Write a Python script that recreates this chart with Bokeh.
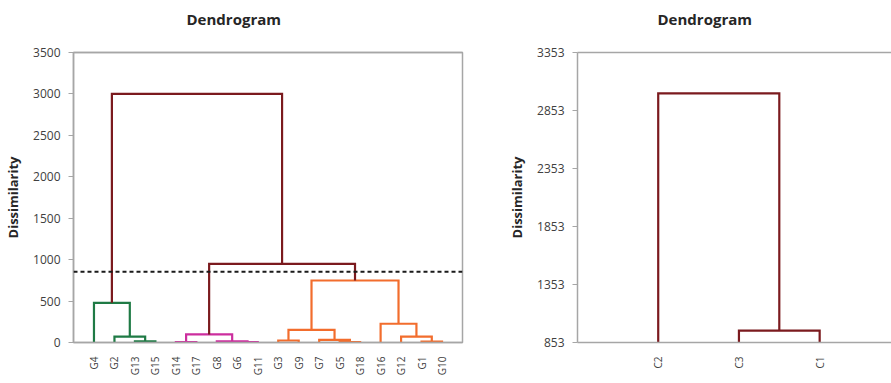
from bokeh.plotting import figure
from bokeh.layouts import row
from bokeh.models import FixedTicker, Span, LinearAxis, Range1d
from bokeh.embed import file_html
from bokeh.resources import INLINE

# ---------------- data ----------------
title_text = "Dendrogram"
y_label = "Dissimilarity"

left_leaves = ["G4", "G2", "G13", "G15", "G14", "G17", "G8", "G6", "G11",
               "G3", "G9", "G7", "G5", "G18", "G16", "G12", "G1", "G10"]
# merges, in order; new nodes are named m1, m2, ...
left_merge_a = ["G13", "G2", "G4", "G14", "G6", "G8", "m4", "G3", "G5", "G7",
                "m8", "G1", "G12", "G16", "m11", "m7", "m3"]
left_merge_b = ["G15", "m1", "m2", "G17", "G11", "m5", "m6", "G9", "G18", "m9",
                "m10", "G10", "m12", "m13", "m14", "m15", "m16"]
left_merge_height = [15, 72, 479, 6, 4, 14, 97, 24, 6, 32,
                     153, 12, 72, 226, 748, 950, 3000]
left_merge_group = ["A", "A", "A", "B", "B", "B", "B", "C", "C", "C",
                    "C", "C", "C", "C", "C", "T", "T"]
left_y_ticks = [0, 500, 1000, 1500, 2000, 2500, 3000, 3500]
truncation_level = 853

right_leaves = ["C2", "C3", "C1"]
right_merge_a = ["C3", "C2"]
right_merge_b = ["C1", "m1"]
right_merge_height = [956, 3000]
right_merge_group = ["T", "T"]
right_y_ticks = [853, 1353, 1853, 2353, 2853, 3353]

group_colors = {"A": "#1f7a45", "B": "#cc2e9e", "C": "#f26d2d", "T": "#7b1a1e"}

FONT = "Open Sans"
AXIS_GRAY = "#a6a6a6"


def dendro_segments(leaves, ma, mb, mh, mg, base):
    pos = {name: i + 1 for i, name in enumerate(leaves)}
    top = {name: base for name in leaves}
    xs, ys, cs = [], [], []
    for k, (a, b, h, g) in enumerate(zip(ma, mb, mh, mg)):
        xa, xb = pos[a], pos[b]
        xs.append([xa, xa, xb, xb])
        ys.append([top[a], h, h, top[b]])
        cs.append(group_colors[g])
        name = "m%d" % (k + 1)
        pos[name] = (xa + xb) / 2
        top[name] = h
    return xs, ys, cs


def style(p, ticks, leaves, title_offset):
    p.title.text = title_text
    p.title.align = "left"
    p.title.offset = title_offset
    p.title.text_font = FONT
    p.title.text_font_size = "15px"
    p.title.text_font_style = "bold"
    p.title.text_color = "#262626"
    p.title.standoff = 10
    p.xgrid.visible = False
    p.ygrid.visible = False
    p.background_fill_color = "white"
    p.border_fill_color = "white"

    xa = p.below[0]
    xa.ticker = FixedTicker(ticks=list(range(1, len(leaves) + 1)))
    xa.major_label_overrides = {i + 1: n for i, n in enumerate(leaves)}
    xa.major_label_orientation = 1.5707963267948966
    xa.major_tick_line_color = None
    xa.minor_tick_line_color = None
    xa.major_tick_out = 0
    xa.major_label_standoff = 14
    xa.major_label_text_font = FONT
    xa.major_label_text_font_size = "10px"
    xa.major_label_text_color = "#404040"
    xa.axis_line_color = AXIS_GRAY
    xa.axis_line_width = 1.5

    ya = p.left[0]
    ya.ticker = FixedTicker(ticks=ticks)
    ya.minor_tick_line_color = None
    ya.major_tick_in = 0
    ya.major_tick_out = 5
    ya.major_tick_line_color = AXIS_GRAY
    ya.major_label_standoff = 8
    ya.major_label_text_font = FONT
    ya.major_label_text_font_size = "12px"
    ya.major_label_text_color = "#404040"
    ya.axis_line_color = AXIS_GRAY
    ya.axis_line_width = 1.5
    ya.axis_label = y_label
    ya.axis_label_text_font = FONT
    ya.axis_label_text_font_size = "13px"
    ya.axis_label_text_font_style = "bold"
    ya.axis_label_text_color = "#262626"
    ya.axis_label_standoff = 8

    # top border line with an invisible spacer tick, keeping the title high above the frame
    top_axis = LinearAxis(ticker=FixedTicker(ticks=[0]), axis_line_color=AXIS_GRAY,
                          axis_line_width=1.5, major_tick_line_color=None,
                          minor_tick_line_color=None, major_tick_out=19,
                          major_tick_in=0, major_label_standoff=0,
                          major_label_overrides={0: ""},
                          major_label_text_font_size="1px")
    p.add_layout(top_axis, "above")


# ---------------- left chart ----------------
p1 = figure(width=498, height=383, output_backend="svg", toolbar_location=None,
            x_range=Range1d(0, len(left_leaves) + 1),
            y_range=Range1d(left_y_ticks[0], left_y_ticks[-1]),
            min_border_left=73, min_border_right=36, min_border_top=52,
            min_border_bottom=41)
style(p1, left_y_ticks, left_leaves, 113)
p1.outline_line_color = AXIS_GRAY
p1.outline_line_width = 1.5

xs, ys, cs = dendro_segments(left_leaves, left_merge_a, left_merge_b,
                             left_merge_height, left_merge_group, left_y_ticks[0])
p1.multi_line(xs, ys, line_color=cs, line_width=2.2, line_join="miter")
p1.add_layout(Span(location=truncation_level, dimension="width",
                   line_color="#1a1a1a", line_dash="4 3", line_width=2))

# ---------------- right chart ----------------
p2 = figure(width=393, height=383, output_backend="svg", toolbar_location=None,
            x_range=Range1d(0, 3.89),
            y_range=Range1d(right_y_ticks[0], right_y_ticks[-1]),
            min_border_left=79, min_border_right=0, min_border_top=52,
            min_border_bottom=41)
style(p2, right_y_ticks, right_leaves, 80)
p2.outline_line_color = None

xs2, ys2, cs2 = dendro_segments(right_leaves, right_merge_a, right_merge_b,
                                right_merge_height, right_merge_group,
                                right_y_ticks[0])
p2.multi_line(xs2, ys2, line_color=cs2, line_width=2.2, line_join="miter")

layout = row(p1, p2)
open("out.html", "w").write(file_html(layout, INLINE))
